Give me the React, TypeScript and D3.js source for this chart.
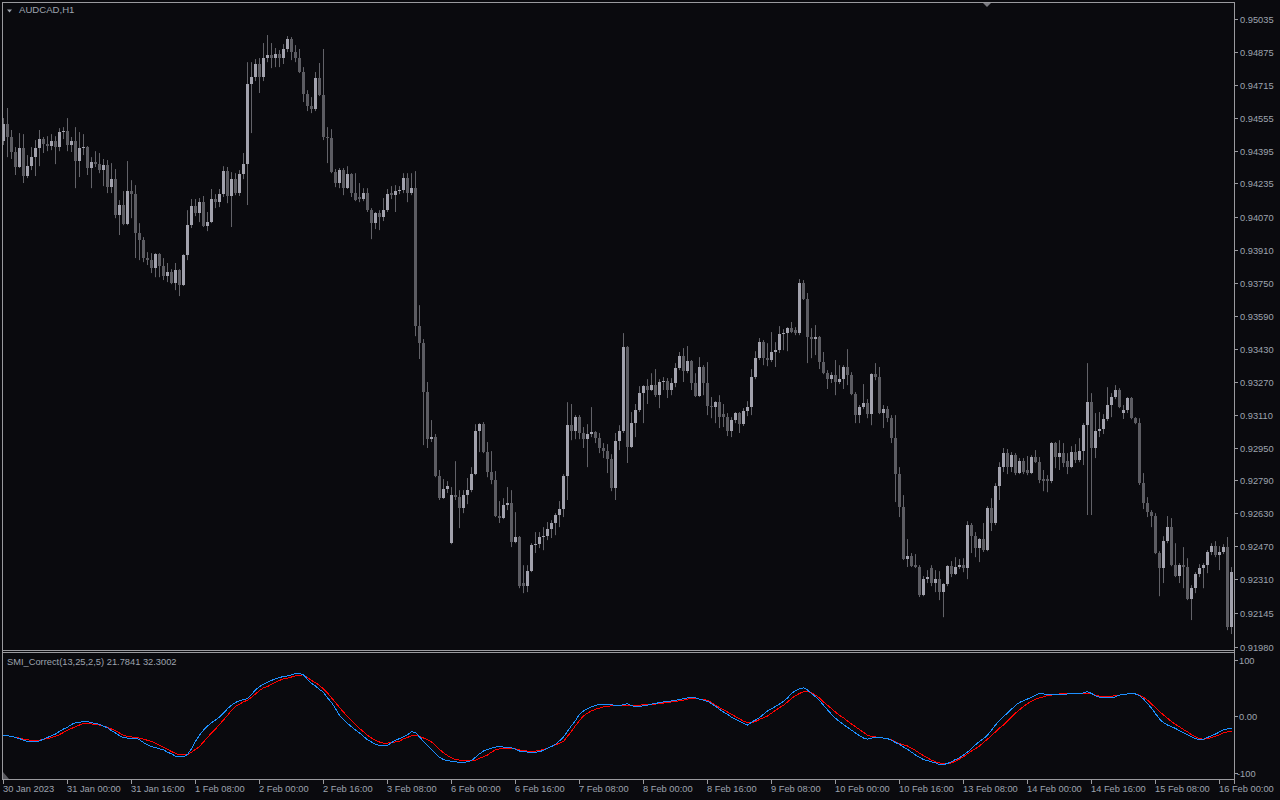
import React, { useEffect, useRef } from "react";
import * as d3 from "d3";

const symbolTitle = "AUDCAD,H1";
const indicatorTitle = "SMI_Correct(13,25,2,5) 21.7841 32.3002";

const timeLabels = [
  "30 Jan 2023", "31 Jan 00:00", "31 Jan 16:00", "1 Feb 08:00", "2 Feb 00:00", "2 Feb 16:00",
  "3 Feb 08:00", "6 Feb 00:00", "6 Feb 16:00", "7 Feb 08:00", "8 Feb 00:00", "8 Feb 16:00",
  "9 Feb 08:00", "10 Feb 00:00", "10 Feb 16:00", "13 Feb 08:00", "14 Feb 00:00", "14 Feb 16:00",
  "15 Feb 08:00", "16 Feb 00:00",
];
const timeLabelBars = [0, 16, 32, 48, 64, 80, 96, 112, 128, 144, 160, 176, 192, 208, 224, 240, 256, 272, 288, 304];

const priceTickLabels = [
  "0.95035", "0.94875", "0.94715", "0.94555", "0.94395", "0.94235", "0.94070", "0.93910", "0.93750", "0.93590",
  "0.93430", "0.93270", "0.93110", "0.92950", "0.92790", "0.92630", "0.92470", "0.92310", "0.92145", "0.91980",
];
const smiTickLabels = ["100", "0.00", "-100"];
const smiTickValues = [100, 0, -100];

const open = [
0.94441,0.94524,0.94461,0.94388,0.94315,0.94407,0.94271,0.94319,0.94363,0.94407,
0.94451,0.94426,0.94417,0.94441,0.94412,0.94485,0.94490,0.94422,0.94441,0.94344,
0.94407,0.94412,0.94310,0.94339,0.94329,0.94300,0.94324,0.94217,0.94256,0.94081,
0.94130,0.94037,0.94198,0.94183,0.93994,0.93959,0.93872,0.93862,0.93823,0.93891,
0.93833,0.93784,0.93804,0.93750,0.93814,0.93741,0.93886,0.94032,0.94125,0.94091,
0.94144,0.94028,0.94047,0.94159,0.94144,0.94183,0.94295,0.94174,0.94256,0.94188,
0.94281,0.94329,0.94718,0.94752,0.94816,0.94752,0.94845,0.94859,0.94845,0.94864,
0.94845,0.94889,0.94937,0.94874,0.94845,0.94777,0.94670,0.94611,0.94597,0.94748,
0.94665,0.94461,0.94456,0.94290,0.94237,0.94300,0.94212,0.94281,0.94188,0.94169,
0.94159,0.94188,0.94105,0.94042,0.94091,0.94071,0.94105,0.94188,0.94178,0.94198,
0.94203,0.94261,0.94188,0.94212,0.93541,0.93458,0.93220,0.92991,0.93001,0.92811,
0.92704,0.92748,0.92485,0.92719,0.92709,0.92656,0.92719,0.92743,0.92821,0.93030,
0.93064,0.92928,0.92831,0.92792,0.92617,0.92607,0.92670,0.92680,0.92490,0.92515,
0.92291,0.92276,0.92349,0.92476,0.92480,0.92515,0.92520,0.92553,0.92583,0.92622,
0.92651,0.92811,0.93059,0.93030,0.93098,0.93021,0.92991,0.93016,0.93025,0.92996,
0.92948,0.92933,0.92894,0.92753,0.92982,0.93030,0.93439,0.92952,0.93069,0.93132,
0.93215,0.93249,0.93230,0.93254,0.93205,0.93269,0.93274,0.93230,0.93264,0.93337,
0.93395,0.93322,0.93371,0.93264,0.93200,0.93342,0.93264,0.93152,0.93147,0.93171,
0.93113,0.93098,0.93030,0.93084,0.93118,0.93064,0.93128,0.93147,0.93293,0.93385,
0.93463,0.93385,0.93376,0.93415,0.93424,0.93502,0.93507,0.93531,0.93521,0.93507,
0.93750,0.93672,0.93488,0.93478,0.93488,0.93366,0.93312,0.93283,0.93303,0.93269,
0.93283,0.93342,0.93303,0.93210,0.93108,0.93147,0.93166,0.93113,0.93308,0.93293,
0.93118,0.93137,0.93093,0.92996,0.92821,0.92660,0.92408,0.92422,0.92378,0.92369,
0.92232,0.92310,0.92364,0.92291,0.92310,0.92247,0.92286,0.92373,0.92335,0.92369,
0.92378,0.92364,0.92573,0.92519,0.92461,0.92505,0.92451,0.92656,0.92583,0.92763,
0.92855,0.92923,0.92855,0.92913,0.92826,0.92884,0.92841,0.92826,0.92904,0.92879,
0.92797,0.92797,0.92787,0.92972,0.92904,0.92923,0.92884,0.92855,0.92928,0.92889,
0.92933,0.93059,0.93171,0.92948,0.93030,0.93040,0.93089,0.93157,0.93196,0.93230,
0.93118,0.93132,0.93191,0.93093,0.93069,0.92777,0.92680,0.92636,0.92617,0.92437,
0.92364,0.92495,0.92563,0.92378,0.92325,0.92378,0.92369,0.92213,0.92266,0.92335,
0.92364,0.92378,0.92442,0.92471,0.92427,0.92442,0.92466,0.92077,
];

const high = [
0.94553,0.94602,0.94495,0.94412,0.94480,0.94475,0.94373,0.94412,0.94446,0.94495,
0.94461,0.94465,0.94475,0.94465,0.94504,0.94509,0.94553,0.94461,0.94509,0.94485,
0.94475,0.94417,0.94363,0.94392,0.94383,0.94354,0.94349,0.94334,0.94305,0.94154,
0.94198,0.94344,0.94251,0.94227,0.94042,0.93974,0.93901,0.93896,0.93896,0.93896,
0.93872,0.93848,0.93818,0.93848,0.93818,0.93891,0.94105,0.94159,0.94159,0.94164,
0.94174,0.94096,0.94208,0.94183,0.94208,0.94319,0.94315,0.94290,0.94285,0.94300,
0.94383,0.94825,0.94825,0.94840,0.94845,0.94918,0.94957,0.94918,0.94894,0.94884,
0.94913,0.94952,0.94947,0.94908,0.94889,0.94801,0.94689,0.94655,0.94777,0.94821,
0.94889,0.94509,0.94499,0.94305,0.94310,0.94310,0.94319,0.94285,0.94285,0.94237,
0.94212,0.94212,0.94115,0.94096,0.94105,0.94164,0.94208,0.94222,0.94227,0.94222,
0.94285,0.94285,0.94285,0.94295,0.93643,0.93478,0.93269,0.93084,0.93016,0.92841,
0.92797,0.92787,0.92758,0.92884,0.92743,0.92743,0.92802,0.92855,0.93064,0.93069,
0.93074,0.92977,0.92933,0.92836,0.92690,0.92704,0.92758,0.92743,0.92636,0.92520,
0.92378,0.92378,0.92485,0.92539,0.92539,0.92563,0.92588,0.92597,0.92631,0.92690,
0.92821,0.93171,0.93162,0.93108,0.93108,0.93050,0.93064,0.93147,0.93030,0.93021,
0.92972,0.92967,0.92918,0.93021,0.93059,0.93507,0.93444,0.93123,0.93162,0.93249,
0.93254,0.93283,0.93312,0.93332,0.93283,0.93293,0.93288,0.93288,0.93361,0.93415,
0.93434,0.93444,0.93376,0.93312,0.93390,0.93351,0.93366,0.93196,0.93176,0.93205,
0.93162,0.93118,0.93098,0.93123,0.93123,0.93142,0.93176,0.93332,0.93419,0.93483,
0.93473,0.93458,0.93512,0.93463,0.93541,0.93526,0.93536,0.93561,0.93536,0.93770,
0.93765,0.93702,0.93531,0.93546,0.93493,0.93415,0.93327,0.93317,0.93376,0.93351,
0.93351,0.93429,0.93317,0.93220,0.93157,0.93259,0.93186,0.93312,0.93361,0.93342,
0.93157,0.93152,0.93108,0.93108,0.92855,0.92719,0.92505,0.92437,0.92432,0.92378,
0.92325,0.92354,0.92378,0.92354,0.92349,0.92291,0.92378,0.92398,0.92417,0.92408,
0.92412,0.92592,0.92583,0.92539,0.92510,0.92583,0.92665,0.92704,0.92777,0.92879,
0.92948,0.92943,0.92928,0.92923,0.92899,0.92899,0.92909,0.92913,0.92938,0.92904,
0.92841,0.92816,0.92977,0.92977,0.92986,0.92972,0.92923,0.92957,0.92967,0.92996,
0.93069,0.93361,0.93215,0.93118,0.93123,0.93113,0.93244,0.93215,0.93254,0.93239,
0.93157,0.93196,0.93196,0.93098,0.93093,0.92826,0.92709,0.92646,0.92631,0.92446,
0.92519,0.92617,0.92607,0.92485,0.92388,0.92466,0.92412,0.92281,0.92344,0.92383,
0.92388,0.92451,0.92485,0.92495,0.92471,0.92480,0.92515,0.92369,
];

const low = [
0.94422,0.94363,0.94354,0.94276,0.94310,0.94237,0.94261,0.94300,0.94271,0.94319,
0.94383,0.94392,0.94397,0.94329,0.94392,0.94451,0.94392,0.94388,0.94212,0.94266,
0.94373,0.94276,0.94212,0.94315,0.94285,0.94222,0.94188,0.94188,0.94066,0.93984,
0.94032,0.94032,0.94066,0.93872,0.93862,0.93852,0.93838,0.93799,0.93779,0.93779,
0.93765,0.93755,0.93745,0.93716,0.93687,0.93736,0.93862,0.94018,0.94076,0.94047,
0.94023,0.94003,0.94042,0.94115,0.94120,0.94169,0.94139,0.94023,0.94178,0.94174,
0.94256,0.94130,0.94480,0.94733,0.94675,0.94733,0.94825,0.94796,0.94801,0.94801,
0.94816,0.94874,0.94835,0.94825,0.94772,0.94631,0.94587,0.94577,0.94587,0.94660,
0.94446,0.94334,0.94285,0.94217,0.94212,0.94178,0.94208,0.94169,0.94149,0.94144,
0.94149,0.94096,0.93964,0.94013,0.94008,0.94052,0.94096,0.94159,0.94096,0.94183,
0.94188,0.94144,0.94178,0.93492,0.93381,0.92962,0.92948,0.92977,0.92806,0.92695,
0.92700,0.92729,0.92480,0.92695,0.92558,0.92631,0.92675,0.92733,0.92816,0.92928,
0.92923,0.92806,0.92772,0.92612,0.92583,0.92602,0.92646,0.92466,0.92485,0.92266,
0.92242,0.92247,0.92344,0.92437,0.92461,0.92451,0.92500,0.92510,0.92524,0.92563,
0.92612,0.92695,0.92986,0.92991,0.92991,0.92948,0.92855,0.93001,0.92972,0.92923,
0.92899,0.92826,0.92738,0.92695,0.92938,0.93021,0.92875,0.92948,0.93001,0.93123,
0.93069,0.93162,0.93225,0.93196,0.93142,0.93230,0.93191,0.93205,0.93244,0.93327,
0.93269,0.93312,0.93230,0.93196,0.93196,0.93205,0.93108,0.93093,0.93069,0.93045,
0.93050,0.93006,0.93001,0.93069,0.93021,0.93055,0.93103,0.93108,0.93283,0.93376,
0.93351,0.93346,0.93366,0.93342,0.93410,0.93424,0.93419,0.93507,0.93497,0.93497,
0.93668,0.93361,0.93385,0.93400,0.93332,0.93307,0.93235,0.93264,0.93205,0.93259,
0.93235,0.93254,0.93205,0.93069,0.93069,0.93137,0.93093,0.93059,0.93278,0.93113,
0.93045,0.93074,0.92972,0.92685,0.92612,0.92403,0.92369,0.92369,0.92364,0.92223,
0.92227,0.92291,0.92276,0.92247,0.92208,0.92125,0.92276,0.92320,0.92330,0.92359,
0.92344,0.92310,0.92437,0.92417,0.92393,0.92442,0.92446,0.92544,0.92573,0.92695,
0.92831,0.92821,0.92831,0.92816,0.92821,0.92821,0.92816,0.92821,0.92875,0.92777,
0.92738,0.92733,0.92777,0.92850,0.92841,0.92855,0.92821,0.92850,0.92875,0.92879,
0.92865,0.92622,0.92622,0.92899,0.93001,0.93016,0.93079,0.93098,0.93186,0.93142,
0.93089,0.93118,0.93088,0.93064,0.92768,0.92651,0.92612,0.92563,0.92432,0.92227,
0.92291,0.92485,0.92373,0.92320,0.92291,0.92266,0.92208,0.92111,0.92242,0.92320,
0.92266,0.92339,0.92427,0.92417,0.92354,0.92432,0.92062,0.92043,
];

const close = [
0.94524,0.94461,0.94388,0.94315,0.94407,0.94271,0.94319,0.94363,0.94407,0.94451,
0.94426,0.94417,0.94441,0.94412,0.94485,0.94490,0.94422,0.94441,0.94344,0.94407,
0.94412,0.94310,0.94339,0.94329,0.94300,0.94324,0.94217,0.94256,0.94081,0.94130,
0.94037,0.94198,0.94183,0.93994,0.93959,0.93872,0.93862,0.93823,0.93891,0.93833,
0.93784,0.93804,0.93750,0.93814,0.93741,0.93886,0.94032,0.94125,0.94091,0.94144,
0.94028,0.94047,0.94159,0.94144,0.94183,0.94295,0.94174,0.94256,0.94188,0.94281,
0.94329,0.94718,0.94752,0.94816,0.94752,0.94845,0.94859,0.94845,0.94864,0.94845,
0.94889,0.94937,0.94874,0.94845,0.94777,0.94670,0.94611,0.94597,0.94748,0.94665,
0.94461,0.94456,0.94290,0.94237,0.94300,0.94212,0.94281,0.94188,0.94154,0.94159,
0.94188,0.94105,0.94042,0.94091,0.94071,0.94105,0.94183,0.94178,0.94198,0.94203,
0.94261,0.94188,0.94212,0.93541,0.93458,0.93220,0.92991,0.93001,0.92811,0.92704,
0.92748,0.92763,0.92719,0.92709,0.92656,0.92719,0.92743,0.92821,0.93030,0.93064,
0.92928,0.92831,0.92792,0.92617,0.92607,0.92670,0.92680,0.92490,0.92515,0.92276,
0.92276,0.92349,0.92476,0.92480,0.92515,0.92520,0.92553,0.92583,0.92622,0.92651,
0.92811,0.93059,0.93030,0.93098,0.93021,0.92991,0.93016,0.93025,0.92996,0.92948,
0.92933,0.92894,0.92753,0.92982,0.93030,0.93439,0.92952,0.93069,0.93132,0.93215,
0.93249,0.93230,0.93254,0.93205,0.93269,0.93274,0.93230,0.93264,0.93337,0.93395,
0.93322,0.93371,0.93264,0.93200,0.93342,0.93264,0.93152,0.93147,0.93171,0.93098,
0.93098,0.93030,0.93084,0.93118,0.93064,0.93128,0.93147,0.93293,0.93385,0.93463,
0.93385,0.93376,0.93415,0.93424,0.93502,0.93507,0.93531,0.93512,0.93507,0.93750,
0.93672,0.93488,0.93478,0.93488,0.93366,0.93312,0.93283,0.93303,0.93269,0.93283,
0.93342,0.93303,0.93210,0.93108,0.93147,0.93166,0.93113,0.93308,0.93293,0.93118,
0.93137,0.93093,0.92996,0.92821,0.92660,0.92408,0.92422,0.92373,0.92369,0.92232,
0.92310,0.92320,0.92291,0.92310,0.92247,0.92286,0.92373,0.92335,0.92369,0.92378,
0.92364,0.92573,0.92519,0.92461,0.92505,0.92451,0.92656,0.92583,0.92763,0.92855,
0.92923,0.92855,0.92913,0.92826,0.92884,0.92831,0.92826,0.92904,0.92879,0.92792,
0.92787,0.92787,0.92972,0.92904,0.92923,0.92875,0.92855,0.92928,0.92889,0.92933,
0.93059,0.93171,0.92948,0.93030,0.93040,0.93089,0.93157,0.93196,0.93230,0.93147,
0.93132,0.93191,0.93093,0.93069,0.92777,0.92680,0.92636,0.92617,0.92437,0.92364,
0.92495,0.92563,0.92378,0.92325,0.92378,0.92369,0.92213,0.92266,0.92335,0.92364,
0.92378,0.92442,0.92471,0.92427,0.92442,0.92466,0.92077,0.92344,
];

const smiMain = [
-34,-35,-36,-38,-40,-43,-45,-46,-46,-44,
-41,-38,-35,-32,-27,-23,-20,-15,-12,-11,
-10,-10,-12,-13,-15,-18,-21,-26,-30,-35,
-38,-39,-39,-39,-42,-47,-51,-54,-56,-58,
-60,-64,-67,-71,-72,-72,-68,-58,-45,-34,
-25,-18,-12,-7,-2,5,13,19,24,27,
29,31,38,46,52,56,60,63,66,68,
70,71,73,75,75,73,65,58,53,47,
42,32,24,13,1,-6,-13,-19,-25,-30,
-36,-42,-46,-50,-52,-53,-52,-47,-43,-40,
-37,-33,-28,-29,-37,-45,-52,-59,-66,-73,
-77,-79,-80,-81,-82,-82,-81,-79,-73,-67,
-62,-59,-57,-55,-54,-55,-55,-56,-59,-62,
-62,-64,-65,-64,-63,-61,-57,-54,-50,-44,
-37,-27,-17,-8,3,9,13,16,19,20,
21,21,20,18,18,20,22,18,17,17,
18,19,21,22,24,25,25,27,28,29,
31,32,32,32,30,28,26,22,17,12,
7,3,-2,-6,-9,-13,-16,-11,-7,-3,
3,9,13,17,21,26,32,40,45,48,
50,46,40,34,28,19,11,3,-4,-10,
-15,-20,-25,-30,-35,-39,-41,-39,-38,-38,
-39,-40,-43,-47,-50,-55,-59,-64,-69,-73,
-77,-79,-81,-83,-86,-86,-84,-81,-77,-74,
-69,-64,-58,-51,-45,-40,-34,-25,-16,-8,
-1,5,12,19,24,27,30,33,37,40,
39,38,38,38,38,38,39,39,39,39,
41,43,40,36,33,32,32,32,34,37,
38,39,39,39,36,30,22,14,4,-5,
-12,-16,-19,-22,-26,-30,-33,-37,-40,-42,
-41,-38,-35,-32,-28,-24,-23,-22,
];

const smiSignal = [
-34,-35,-36,-38,-39,-41,-42,-43,-44,-43,
-41,-40,-38,-36,-33,-29,-25,-22,-19,-16,
-13,-13,-14,-15,-16,-18,-20,-23,-26,-30,
-34,-36,-37,-38,-39,-41,-43,-45,-48,-52,
-55,-59,-63,-66,-69,-69,-69,-64,-59,-54,
-46,-38,-30,-23,-15,-7,1,10,17,21,
25,28,33,39,45,50,52,56,60,63,
66,67,69,71,72,73,68,63,59,54,
48,41,32,24,15,7,-1,-8,-15,-22,
-28,-34,-39,-43,-46,-48,-48,-47,-46,-45,
-40,-38,-35,-34,-36,-39,-42,-46,-52,-59,
-65,-70,-74,-77,-78,-79,-79,-79,-78,-75,
-72,-69,-64,-60,-58,-57,-57,-57,-58,-60,
-61,-62,-63,-62,-61,-59,-57,-54,-51,-48,
-45,-36,-27,-17,-8,0,5,9,12,14,
16,17,18,18,18,18,19,19,19,19,
20,20,21,21,22,23,24,25,26,27,
28,30,31,31,30,29,28,24,19,15,
11,7,3,-1,-5,-9,-12,-12,-10,-6,
-3,0,5,10,15,19,25,31,36,40,
43,43,41,37,32,25,19,13,7,1,
-3,-9,-14,-19,-24,-29,-34,-36,-37,-38,
-39,-40,-42,-46,-49,-51,-53,-57,-61,-66,
-70,-74,-78,-81,-83,-84,-84,-83,-80,-76,
-72,-67,-62,-58,-53,-47,-41,-35,-28,-21,
-16,-9,-2,5,11,17,22,26,30,32,
34,36,37,38,39,39,39,39,39,39,
40,40,39,37,35,34,34,35,36,37,
38,39,39,39,37,33,28,21,15,8,
2,-4,-10,-15,-19,-24,-28,-33,-37,-40,
-41,-40,-38,-36,-33,-30,-28,-27,
];

const BG = "#0a0a0e";
const FRAME = "#9a9a9e";
const TEXT = "#9ea4ae";
const BULL = "#a2a2ad";
const BEAR = "#5c5c62";
const WICK = "#626268";
const FONT = "'Liberation Sans', Arial, sans-serif";

export default function App() {
  const ref = useRef<SVGSVGElement | null>(null);

  useEffect(() => {
    const svg = d3.select(ref.current);
    svg.selectAll("*").remove();

    const W = 1280, H = 800;
    const left = 2, right = 1234;
    const mainTop = 2, mainBottom = 650;
    const subTop = 652, subBottom = 779;

    const n = close.length;
    const x = d3.scaleLinear().domain([0, n - 1]).range([3.5, 3.5 + 4 * (n - 1)]);
    const y = d3.scaleLinear().domain([0.9198, 0.95035]).range([647, 19]);
    const ys = d3.scaleLinear().domain([-100, 100]).range([772.5, 659.5]);

    svg.append("rect").attr("width", W).attr("height", H).attr("fill", BG);

    // candles
    const gMain = svg.append("g");
    const idx = d3.range(n);
    gMain.selectAll("line.wick").data(idx).join("line")
      .attr("x1", (i) => x(i)).attr("x2", (i) => x(i))
      .attr("y1", (i) => y(high[i])).attr("y2", (i) => y(low[i]))
      .attr("stroke", WICK).attr("stroke-width", 1);
    gMain.selectAll("rect.body").data(idx).join("rect")
      .attr("x", (i) => x(i) - 1.5)
      .attr("width", 3)
      .attr("y", (i) => Math.min(y(open[i]), y(close[i])))
      .attr("height", (i) => Math.max(1, Math.abs(y(open[i]) - y(close[i]))))
      .attr("fill", (i) => (close[i] >= open[i] ? BULL : BEAR))
      .attr("shape-rendering", "crispEdges");

    // indicator lines
    const line = d3.line<number>().x((_, i) => x(i)).y((d) => ys(d));
    svg.append("path").attr("d", line(smiSignal)).attr("fill", "none").attr("stroke", "#ff0000")
      .attr("stroke-width", 1).attr("shape-rendering", "crispEdges");
    svg.append("path").attr("d", line(smiMain)).attr("fill", "none").attr("stroke", "#1e90ff")
      .attr("stroke-width", 1).attr("shape-rendering", "crispEdges");

    // frames
    const fr = svg.append("g").attr("stroke", FRAME).attr("stroke-width", 1).attr("shape-rendering", "crispEdges");
    const hl = (yy: number) => fr.append("line").attr("x1", left).attr("x2", right + 1).attr("y1", yy + 0.5).attr("y2", yy + 0.5);
    hl(mainTop); hl(mainBottom); hl(subTop); hl(subBottom);
    fr.append("line").attr("x1", left + 0.5).attr("x2", left + 0.5).attr("y1", mainTop).attr("y2", subBottom + 1);
    fr.append("line").attr("x1", right + 0.5).attr("x2", right + 0.5).attr("y1", mainTop).attr("y2", subBottom + 5);

    // price axis
    const pa = svg.append("g");
    priceTickLabels.forEach((s) => {
      const yy = Math.round(y(+s)) + 0.5;
      pa.append("line").attr("x1", right).attr("x2", right + 4).attr("y1", yy).attr("y2", yy)
        .attr("stroke", FRAME).attr("shape-rendering", "crispEdges");
      pa.append("text").attr("x", 1240).attr("y", yy).attr("dy", "0.35em").text(s)
        .attr("fill", TEXT).attr("font-family", FONT).attr("font-size", 9.3);
    });
    smiTickLabels.forEach((s, k) => {
      const yy = Math.round(ys(smiTickValues[k])) + 0.5;
      pa.append("line").attr("x1", right).attr("x2", right + 4).attr("y1", yy).attr("y2", yy)
        .attr("stroke", FRAME).attr("shape-rendering", "crispEdges");
      pa.append("text").attr("x", s.startsWith("-") ? 1237 : 1239).attr("y", yy).attr("dy", "0.35em").text(s)
        .attr("fill", TEXT).attr("font-family", FONT).attr("font-size", 9.3);
    });

    // time axis
    const ta = svg.append("g");
    timeLabels.forEach((s, k) => {
      const xx = Math.floor(x(timeLabelBars[k])) + 0.5;
      ta.append("line").attr("x1", xx).attr("x2", xx).attr("y1", subBottom).attr("y2", subBottom + 5)
        .attr("stroke", FRAME).attr("shape-rendering", "crispEdges");
      ta.append("text").attr("x", xx - 0.5).attr("y", 792).text(s)
        .attr("fill", TEXT).attr("font-family", FONT).attr("font-size", 9.3);
    });

    // titles
    svg.append("path").attr("d", "M7,9.5 L12,9.5 L9.5,12.5 Z").attr("fill", TEXT);
    svg.append("text").attr("x", 19).attr("y", 10).attr("dy", "0.35em").text(symbolTitle)
      .attr("fill", TEXT).attr("font-family", FONT).attr("font-size", 9.6);
    svg.append("text").attr("x", 7).attr("y", 661.5).attr("dy", "0.35em").text(indicatorTitle)
      .attr("fill", TEXT).attr("font-family", FONT).attr("font-size", 9.3);

    // small markers
    svg.append("path").attr("d", "M983,3 L991,3 L987,7 Z").attr("fill", "#7a7a80");
    svg.append("path").attr("d", "M3,772 L3,779 L9,779 Z").attr("fill", "#5a5a60");
  }, []);

  return (
    <svg
      ref={ref}
      width={1280}
      height={800}
      style={{ position: "fixed", left: 0, top: 0, display: "block" }}
    />
  );
}
